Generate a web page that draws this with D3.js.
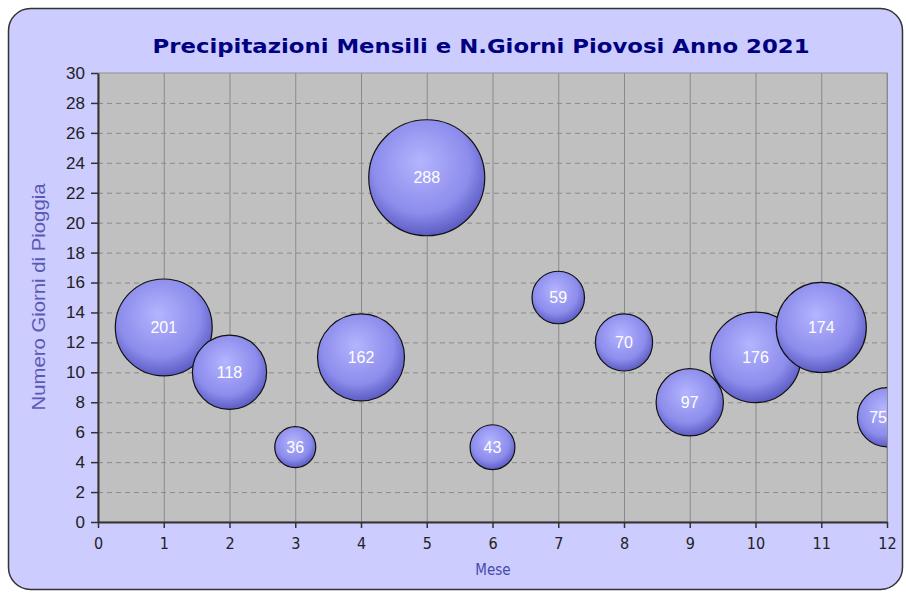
<!DOCTYPE html>
<html><head><meta charset="utf-8">
<script src="https://cdn.jsdelivr.net/npm/d3@7"></script>
<style>body{margin:0;background:#fff}svg{display:block}</style>
</head><body>
<script>
const months = [1,2,3,4,5,6,7,8,9,10,11,12];
const rainyDays = [13,10,5,11,23,5,15,12,8,11,13,7];
const rainMm = [201,118,36,162,288,43,59,70,97,176,174,75];
const yTicks = d3.range(0,31,2);
const xTicks = d3.range(0,13,1);
const title = "Precipitazioni Mensili e N.Giorni Piovosi Anno 2021";
const yTitle = "Numero Giorni di Pioggia";
const xTitle = "Mese";

const W=906,H=594;
const svg=d3.select("body").append("svg").attr("width",W).attr("height",H);
const L=98,R=887,T=73,B=522;
const x=d3.scaleLinear().domain([0,12]).range([L,R]);
const y=d3.scaleLinear().domain([0,30]).range([B,T]);
const r=d3.scaleSqrt().domain([0,288]).range([0,58]);

const defs=svg.append("defs");
const g=defs.append("radialGradient").attr("id","bub").attr("cx","46%").attr("cy","40%").attr("r","60%").attr("fx","44%").attr("fy","36%");
g.append("stop").attr("offset","0%").attr("stop-color","#b4b4ff");
g.append("stop").attr("offset","70%").attr("stop-color","#8c8cec");
g.append("stop").attr("offset","100%").attr("stop-color","#5c5cc4");
defs.append("clipPath").attr("id","clip").append("rect").attr("x",L).attr("y",T).attr("width",R-L).attr("height",B-T);

svg.append("rect").attr("x",8.5).attr("y",8.5).attr("width",894).attr("height",581).attr("rx",22)
  .attr("fill","#ccccff").attr("stroke","#333").attr("stroke-width",1.5);

svg.append("text").attr("x",481).attr("y",53).attr("text-anchor","middle")
  .attr("font-family","DejaVu Sans").attr("font-weight","bold").attr("font-size",20)
  .attr("fill","#000080").attr("textLength",657).attr("lengthAdjust","spacingAndGlyphs").text(title);

svg.append("rect").attr("x",L).attr("y",T).attr("width",R-L).attr("height",B-T).attr("fill","#c0c0c0").attr("stroke","#909090");

svg.append("g").selectAll("line").data(yTicks.filter(d=>d>0&&d<30)).join("line")
  .attr("x1",L).attr("x2",R).attr("y1",d=>y(d)+0.5).attr("y2",d=>y(d)+0.5)
  .attr("stroke","#8a8a8a").attr("stroke-dasharray","5,4");
svg.append("g").selectAll("line").data(xTicks.filter(d=>d>0)).join("line")
  .attr("y1",T).attr("y2",B).attr("x1",d=>x(d)+0.5).attr("x2",d=>x(d)+0.5)
  .attr("stroke","#8a8a8a");

const yAxis=svg.append("g").attr("transform",`translate(${L},0)`)
  .call(d3.axisLeft(y).tickValues(yTicks).tickSize(7).tickSizeOuter(0).tickPadding(6));
const xAxis=svg.append("g").attr("transform",`translate(0,${B})`)
  .call(d3.axisBottom(x).tickValues(xTicks).tickSize(6).tickSizeOuter(0).tickPadding(10));
[yAxis,xAxis].forEach(a=>{
  a.select(".domain").attr("stroke","#333").attr("stroke-width",2);
  a.selectAll(".tick line").attr("stroke","#333").attr("stroke-width",1.5);
  a.selectAll("text").attr("font-family","Liberation Sans, Arial").attr("font-size",17).attr("fill","#222");
});
xAxis.selectAll("text").attr("font-family","DejaVu Sans Condensed, DejaVu Sans").attr("font-size",16);

svg.append("text").attr("transform","translate(45,297) rotate(-90)").attr("text-anchor","middle")
  .attr("font-family","Liberation Sans, Arial").attr("font-size",19).attr("fill","#5a5ab4")
  .attr("textLength",227).attr("lengthAdjust","spacingAndGlyphs").text(yTitle);
svg.append("text").attr("x",493).attr("y",575).attr("text-anchor","middle")
  .attr("font-family","DejaVu Sans Condensed, DejaVu Sans").attr("font-size",15).attr("fill","#4848b0").text(xTitle);

const data=months.map((m,i)=>({m,d:rainyDays[i],v:rainMm[i]}));
const bg=svg.append("g").attr("clip-path","url(#clip)");
const nodes=bg.selectAll("g").data(data).join("g").attr("transform",d=>`translate(${x(d.m)},${y(d.d)})`);
nodes.append("circle").attr("r",d=>r(d.v)).attr("fill","url(#bub)").attr("stroke","#111").attr("stroke-width",1.2);
nodes.append("text").attr("dy","0.35em")
  .attr("font-family","Liberation Sans, Arial").attr("font-size",16).attr("fill","#fff").text(d=>d.v)
  .each(function(d){
    const w=this.getComputedTextLength();
    const cx=x(d.m);
    if(cx+w/2>R){ d3.select(this).attr("text-anchor","end").attr("x",R-cx); }
    else d3.select(this).attr("text-anchor","middle");
  });
</script>
</body></html>
